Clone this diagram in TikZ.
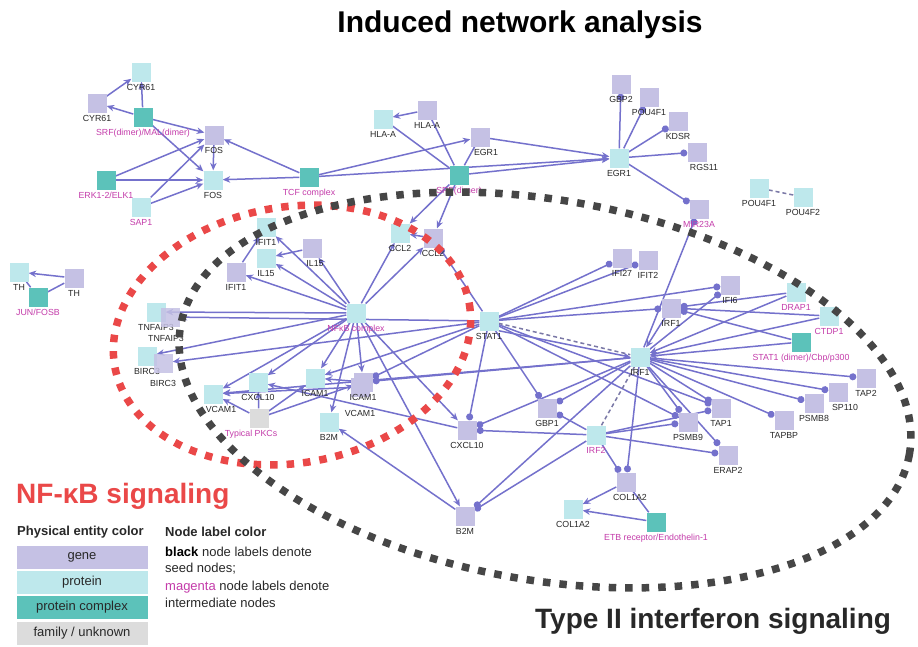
\documentclass[tikz,border=0pt]{standalone}
\usepackage{fontspec}
\setmainfont{Liberation Sans}
\usetikzlibrary{arrows.meta,backgrounds}
\definecolor{cgene}{RGB}{197,193,228}
\definecolor{cprot}{RGB}{190,232,236}
\definecolor{ccplx}{RGB}{92,194,186}
\definecolor{cfam}{RGB}{220,220,220}
\definecolor{cedge}{RGB}{116,113,204}
\definecolor{cmag}{RGB}{196,60,170}
\definecolor{cred}{RGB}{234,72,72}
\definecolor{cdot}{RGB}{70,70,70}
\definecolor{ctxt}{RGB}{40,40,40}
\begin{document}
\begin{tikzpicture}[x=1pt,y=-1pt,
 sq/.style={rectangle,minimum size=19pt,inner sep=0pt},
 gene/.style={sq,fill=cgene},
 prot/.style={sq,fill=cprot},
 cplx/.style={sq,fill=ccplx},
 fam/.style={sq,fill=cfam},
 lab/.style={font=\fontsize{8.8}{9}\selectfont,text=ctxt,inner sep=0.5pt},
 labm/.style={lab,text=cmag},
 L/.style={label={[lab,label distance=2pt]below:#1}},
 M/.style={label={[labm,label distance=2pt]below:#1}},
 LX/.style 2 args={label={[lab,label distance=2pt,xshift=#1]below:#2}},
 MX/.style 2 args={label={[labm,label distance=2pt,xshift=#1]below:#2}},
 ed/.style={draw=cedge,line width=1.5pt},
 ar/.style={ed,-{Stealth[length=7.5pt,width=6.5pt]}},
 dt/.style={ed,-{Circle[length=7pt]}},
 dsh/.style={draw=cedge!50!gray,line width=1.5pt,dash pattern=on 4pt off 3pt},
 ring/.style={line width=7.5pt,dash pattern=on 7.5pt off 9pt},
 leg/.style={minimum width=131pt,minimum height=23pt,inner sep=0pt,font=\fontsize{13}{14}\selectfont,text=ctxt},
 ltxt/.style={anchor=west,inner sep=0pt,text=ctxt},
]
\useasboundingbox (0,0) rectangle (918,646);

% ---------- nodes ----------
\node[prot,L=CYR61] (cyr61p) at (141,72) {};
\node[gene,L=CYR61] (cyr61g) at (97,103) {};
\node[cplx,M={SRF(dimer)/MAL(dimer)}] (srfmal) at (143,117) {};
\node[gene,L=FOS] (fosg) at (214,135) {};
\node[prot,L=FOS] (fosp) at (213,180) {};
\node[cplx,M=ERK1-2/ELK1] (erk) at (106,180) {};
\node[prot,M=SAP1] (sap1) at (141,207) {};
\node[cplx,M=TCF complex] (tcf) at (309,177) {};
\node[prot,L=HLA-A] (hlap) at (383,119) {};
\node[gene,L=HLA-A] (hlag) at (427,110) {};
\node[gene,LX={6pt}{EGR1}] (egr1g) at (480,137) {};
\node[cplx,M=SRF(dimer)] (srfd) at (459,175) {};
\node[prot,L=EGR1] (egr1p) at (619,158) {};
\node[gene,L=GBP2] (gbp2) at (621,84) {};
\node[gene,L=POU4F1] (pou4f1g) at (649,97) {};
\node[gene,L=KDSR] (kdsr) at (678,121) {};
\node[gene,LX={7pt}{RGS11}] (rgs11) at (697,152) {};
\node[gene,M=MIR23A] (mir23a) at (699,209) {};
\node[prot,L=POU4F1] (pou4f1p) at (759,188) {};
\node[prot,L=POU4F2] (pou4f2) at (803,197) {};
\node[prot,L=TH] (thp) at (19,272) {};
\node[gene,L=TH] (thg) at (74,278) {};
\node[cplx,M=JUN/FOSB] (junfosb) at (38,297) {};

\node[prot,L=IFIT1] (ifit1p) at (266,227) {};
\node[prot,L=IL15] (il15p) at (266,258) {};
\node[gene,L=IFIT1] (ifit1g) at (236,272) {};
\node[gene,LX={3pt}{IL15}] (il15g) at (312,248) {};
\node[prot,L=CCL2] (ccl2p) at (400,233) {};
\node[gene,L=CCL2] (ccl2g) at (433,238) {};
\node[prot,M=NFκB complex] (nfkb) at (356,313) {};
\node[prot,L=STAT1] (stat1) at (489,321) {};
\node[prot,L=TNFAIP3] (tnfp) at (156,312) {};
\node[gene,fill opacity=0.85,label={[lab,label distance=8pt,xshift=-4pt]below:TNFAIP3}] (tnfg) at (170,317) {};
\node[prot,L=BIRC3] (birc3p) at (147,356) {};
\node[gene,fill opacity=0.85,label={[lab,label distance=7pt]below:BIRC3}] (birc3g) at (163,363) {};
\node[prot,L=CXCL10] (cxcl10p) at (258,382) {};
\node[prot,LX={8pt}{VCAM1}] (vcam1p) at (213,394) {};
\node[fam,MX={-8pt}{Typical PKCs}] (pkc) at (259,418) {};
\node[prot,L=ICAM1] (icam1p) at (315,378) {};
\node[gene,label={[lab,label distance=12.5pt]below:VCAM1}] (vcam1g) at (360,387) {};
\node[gene,L=ICAM1] (icam1g) at (363,382) {};
\node[prot,L=B2M] (b2mp) at (329,422) {};
\node[gene,L=CXCL10] (cxcl10g) at (467,430) {};

\node[gene,L=IFI27] (ifi27) at (622,258) {};
\node[gene,L=IFIT2] (ifit2) at (648,260) {};
\node[gene,L=GBP1] (gbp1) at (547,408) {};
\node[prot,L=IRF1] (irf1p) at (640,357) {};
\node[prot,M=IRF2] (irf2) at (596,435) {};
\node[gene,L=IFI6] (ifi6) at (730,285) {};
\node[gene,L=IRF1] (irf1g) at (671,308) {};
\node[prot,M=DRAP1] (drap1) at (796,292) {};
\node[prot,M=CTDP1] (ctdp1) at (829,316) {};
\node[cplx,M=STAT1 (dimer)/Cbp/p300] (stat1d) at (801,342) {};
\node[gene,L=TAP2] (tap2) at (866,378) {};
\node[gene,LX={7pt}{SP110}] (sp110) at (838,392) {};
\node[gene,L=PSMB8] (psmb8) at (814,403) {};
\node[gene,L=TAPBP] (tapbp) at (784,420) {};
\node[gene,L=TAP1] (tap1) at (721,408) {};
\node[gene,L=PSMB9] (psmb9) at (688,422) {};
\node[gene,L=ERAP2] (erap2) at (728,455) {};
\node[gene,LX={4pt}{COL1A2}] (col1a2g) at (626,482) {};
\node[prot,L=COL1A2] (col1a2p) at (573,509) {};
\node[cplx,M=ETB receptor/Endothelin-1] (etb) at (656,522) {};
\node[gene,L=B2M] (b2mg) at (465,516) {};

% ---------- edges ----------
\begin{pgfonlayer}{background}
\fill[white] (0,0) rectangle (918,646);
\draw[ar] (cyr61g) -- (cyr61p);
\draw[ar] (srfmal) -- (cyr61p);
\draw[ar] (srfmal) -- (cyr61g);
\draw[ar] (srfmal) -- (fosg);
\draw[ar] (srfmal) -- (fosp);
\draw[ar] (erk) -- (fosg);
\draw[ar] (erk) -- (fosp);
\draw[ar] (sap1) -- (fosg);
\draw[ar] (sap1) -- (fosp);
\draw[ar] (fosg) -- (fosp);
\draw[ar] (tcf) -- (fosg);
\draw[ar] (tcf) -- (fosp);
\draw[ar] (tcf) -- (egr1g);
\draw[ar] (tcf) -- (egr1p);
\draw[ar] (hlag) -- (hlap);
\draw[ed] (srfd) -- (hlap);
\draw[ed] (srfd) -- (hlag);
\draw[ed] (srfd) -- (egr1g);
\draw[ar] (srfd) -- (egr1p);
\draw[ar] (egr1g) -- (egr1p);
\draw[ar] (srfd) -- (ccl2p);
\draw[ar] (srfd) -- (ccl2g);
\foreach \t in {gbp2,pou4f1g,kdsr,rgs11,mir23a} \draw[dt] (egr1p) -- (\t);
\draw[dt] (irf1p) -- (mir23a);
\draw[dsh] (pou4f1p) -- (pou4f2);
\draw[ar] (thg) -- (thp);
\draw[ed] (junfosb) -- (thp);
\draw[ed] (junfosb) -- (thg);
\foreach \t in {ifit1p,il15p,ifit1g,il15g,ccl2p,ccl2g,tnfp,birc3p,vcam1p,cxcl10p,icam1p,icam1g,b2mp,cxcl10g,b2mg} \draw[ar] (nfkb) -- (\t);
\draw[ar] (il15g) -- (il15p);
\draw[ar] (ifit1g) -- (ifit1p);
\draw[ar] (ccl2g) -- (ccl2p);
\draw[ar] (icam1g) -- (icam1p);
\draw[ar] (vcam1g) -- (vcam1p);
\draw[ar] (cxcl10g) -- (cxcl10p);
\draw[ar] (b2mg) -- (b2mp);
\draw[ar] (pkc) -- (vcam1p);
\draw[ar] (pkc) -- (icam1p);
\draw[ar] (pkc) -- (icam1g);
\draw[ar] (pkc) -- (cxcl10p);
\draw[ar] (stat1) -- (tnfg);
\draw[ar] (stat1) -- (birc3g);
\draw[ar] (stat1) -- (icam1p);
\draw[ar] (stat1.south east) -- (irf1p.west);
\foreach \t in {ccl2g,ifi27,ifit2,irf1g,ifi6,cxcl10g,gbp1,icam1g,psmb9,tap1} \draw[dt] (stat1) -- (\t);
\draw[dsh] (stat1) -- (irf1p);
\draw[ar] (irf1g) -- (irf1p);
\foreach \t in {drap1,ctdp1,stat1d} {\draw[ar] (\t) -- (irf1p); \draw[dt] (\t) -- (irf1g);}
\foreach \t in {ifi6,tap2,sp110,psmb8,tapbp,tap1,psmb9,erap2,gbp1,cxcl10g,b2mg,col1a2g,icam1g} \draw[dt] (irf1p) -- (\t);
\draw[ar] (irf1p) -- (vcam1p);
\draw[dsh] (irf2) -- (irf1p);
\foreach \t in {cxcl10g,b2mg,gbp1,psmb9,tap1,erap2,col1a2g} \draw[dt] (irf2) -- (\t);
\draw[ar] (col1a2g) -- (col1a2p);
\draw[ar] (etb) -- (col1a2p);
\draw[ed] (etb) -- (col1a2g);
\end{pgfonlayer}

% ---------- dotted rings ----------
\draw[ring,cred,rotate around={10:(292,335)}] (292,335) ellipse [x radius=180,y radius=128];
\draw[ring,cdot,rotate around={-10:(545,390)}] (545,390) ellipse [x radius=370,y radius=190];

% ---------- titles ----------
\node[anchor=base,font=\bfseries\fontsize{30}{32}\selectfont] (title) at (520,32) {Induced network analysis};
\node[anchor=base west,inner sep=0pt,text=cred,font=\bfseries\fontsize{28}{30}\selectfont] (nft) at (16,503) {NF-κB signaling};
\node[anchor=base west,inner sep=0pt,text=ctxt,font=\bfseries\fontsize{28}{30}\selectfont] (t2) at (535,628) {Type II interferon signaling};

% ---------- legend ----------
\node[ltxt,font=\bfseries\fontsize{13}{14}\selectfont] (lh1) at (17,532) {Physical entity color};
\node[leg,fill=cgene] (lg1) at (82,557.5) {gene};
\node[leg,fill=cprot] (lg2) at (82,582.5) {protein};
\node[leg,fill=ccplx] (lg3) at (82,607.5) {protein complex};
\node[leg,fill=cfam] (lg4) at (82,633) {family / unknown};
\node[ltxt,font=\bfseries\fontsize{13}{14}\selectfont] (lh2) at (165,532) {Node label color};
\node[ltxt,font=\fontsize{13}{14}\selectfont] (l1) at (165,552) {\textcolor{black}{\bfseries black} node labels denote};
\node[ltxt,font=\fontsize{13}{14}\selectfont] (l2) at (165,569) {seed nodes;};
\node[ltxt,font=\fontsize{13}{14}\selectfont] (l3) at (165,587) {\textcolor{cmag}{magenta} node labels denote};
\node[ltxt,font=\fontsize{13}{14}\selectfont] (l4) at (165,603) {intermediate nodes};
\end{tikzpicture}
\end{document}
